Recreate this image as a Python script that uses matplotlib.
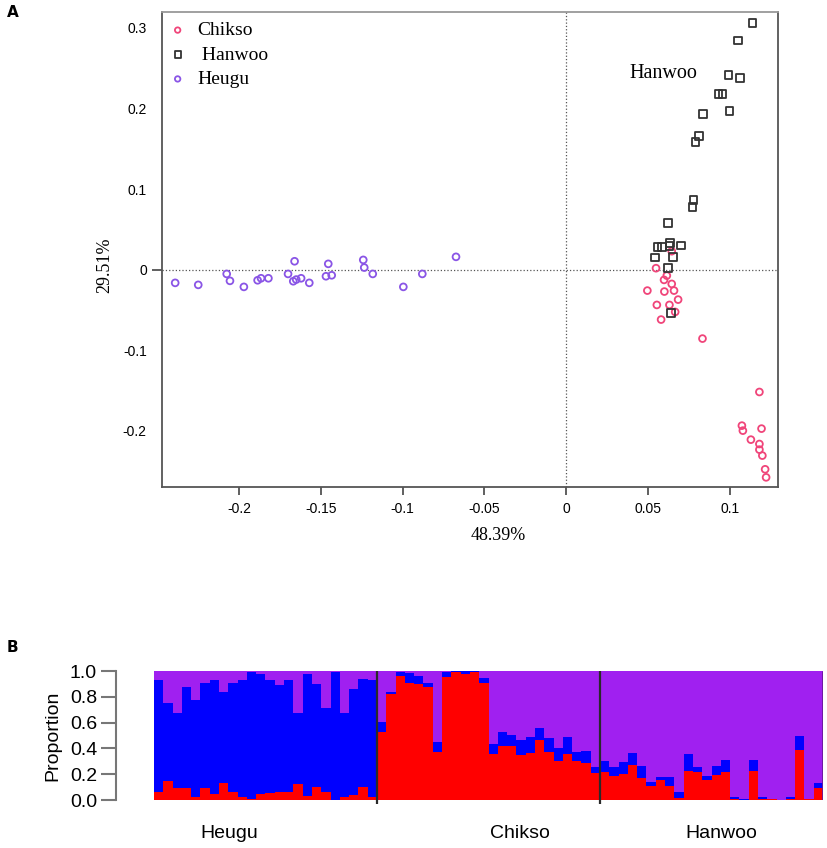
import matplotlib
matplotlib.use("Agg")
import matplotlib.pyplot as plt
import numpy as np

# PCA coordinates (PC1 48.39%, PC2 29.51%)
chikso_x = [0.0646, 0.055, 0.0616, 0.0599, 0.0646, 0.0497, 0.0601, 0.066, 0.0685, 0.0555,
            0.0632, 0.0667, 0.0581, 0.0834, 0.1182, 0.1075, 0.1081, 0.1195, 0.113, 0.1182,
            0.1182, 0.12, 0.1217, 0.1223]
chikso_y = [0.0228, 0.0017, -0.0075, -0.0128, -0.0178, -0.0261, -0.0273, -0.0261, -0.0373, -0.0439,
            -0.0439, -0.0526, -0.0621, -0.0857, -0.152, -0.1938, -0.2, -0.1975, -0.2112, -0.2166,
            -0.2236, -0.231, -0.248, -0.258]
hanwoo_x = [0.114, 0.105, 0.0993, 0.1064, 0.0932, 0.0956, 0.0836, 0.0999, 0.0813, 0.0791,
            0.0779, 0.0773, 0.0622, 0.0559, 0.0585, 0.0636, 0.0632, 0.0701, 0.0544, 0.0653,
            0.0622, 0.0642]
hanwoo_y = [0.3065, 0.2845, 0.2414, 0.2377, 0.2178, 0.2178, 0.1934, 0.1971, 0.1656, 0.1586,
            0.0865, 0.0779, 0.058, 0.0282, 0.0282, 0.0331, 0.029, 0.0298, 0.0149, 0.0158,
            0.0021, -0.0538]
heugu_x = [-0.239, -0.2249, -0.2075, -0.2055, -0.197, -0.1886, -0.1865, -0.182, -0.170, -0.166,
           -0.1668, -0.165, -0.162, -0.157, -0.1468, -0.1454, -0.1433, -0.124, -0.1234, -0.1182,
           -0.0995, -0.0879, -0.0673]
heugu_y = [-0.0165, -0.019, -0.0054, -0.014, -0.0215, -0.0133, -0.0108, -0.0108, -0.0054, 0.0103,
           -0.0145, -0.0124, -0.0108, -0.0165, -0.0083, 0.0071, -0.0071, 0.012, 0.0025, -0.0054,
           -0.0215, -0.0054, 0.0158]

# STRUCTURE proportions per individual (red, blue; purple is the rest)
heugu_red = [0.064, 0.147, 0.09, 0.09, 0.02, 0.095, 0.05, 0.134, 0.064, 0.02, 0.005, 0.046,
             0.057, 0.064, 0.064, 0.124, 0.03, 0.103, 0.064, 0.0, 0.026, 0.039, 0.103, 0.026]
heugu_blue = [0.869, 0.606, 0.585, 0.786, 0.758, 0.812, 0.883, 0.704, 0.843, 0.913, 0.985, 0.934,
              0.876, 0.826, 0.869, 0.551, 0.95, 0.797, 0.646, 0.99, 0.649, 0.824, 0.837, 0.907]
chikso_red = [0.528, 0.825, 0.959, 0.907, 0.902, 0.876, 0.374, 0.954, 0.992, 0.979, 0.99, 0.907,
              0.353, 0.418, 0.418, 0.348, 0.366, 0.464, 0.374, 0.304, 0.356, 0.304, 0.284, 0.206]
chikso_blue = [0.078, 0.013, 0.033, 0.078, 0.057, 0.031, 0.077, 0.038, 0.008, 0.021, 0.01, 0.039,
               0.085, 0.11, 0.085, 0.121, 0.124, 0.098, 0.103, 0.096, 0.134, 0.07, 0.097, 0.052]
hanwoo_red = [0.219, 0.186, 0.201, 0.271, 0.168, 0.108, 0.155, 0.108, 0.013, 0.227, 0.214, 0.155,
              0.193, 0.219, 0.005, 0.0, 0.227, 0.01, 0.005, 0.0, 0.005, 0.387, 0.005, 0.09]
hanwoo_blue = [0.085, 0.072, 0.095, 0.09, 0.095, 0.034, 0.02, 0.067, 0.051, 0.129, 0.039, 0.031,
               0.07, 0.09, 0.021, 0.01, 0.082, 0.01, 0.0, 0.0, 0.015, 0.108, 0.005, 0.039]
groups = ["Heugu", "Chikso", "Hanwoo"]

serif = "Liberation Serif"
sans = "Liberation Sans"

fig = plt.figure(figsize=(8.27, 8.48), dpi=100)

# ---- A: PCA
ax = fig.add_axes([0.196, 0.4257, 0.745, 0.5603])
c_chik, c_han, c_heu = "#f0457a", "#333333", "#8a55e6"
ax.axhline(0, color="#555555", ls=":", lw=0.9, zorder=0)
ax.axvline(0, color="#555555", ls=":", lw=0.9, zorder=0)
ax.scatter(chikso_x, chikso_y, s=24, facecolors="none", edgecolors=c_chik, linewidths=1.3, label="Chikso")
ax.scatter(hanwoo_x, hanwoo_y, s=30, marker="s", facecolors="none", edgecolors=c_han, linewidths=1.3, label=" Hanwoo")
ax.scatter(heugu_x, heugu_y, s=24, facecolors="none", edgecolors=c_heu, linewidths=1.3, label="Heugu")
ax.set_xlim(-0.247, 0.1297)
ax.set_ylim(-0.27, 0.32)
ax.set_xticks([-0.2, -0.15, -0.1, -0.05, 0, 0.05, 0.1])
ax.set_xticklabels(["-0.2", "-0.15", "-0.1", "-0.05", "0", "0.05", "0.1"], family=sans, fontsize=10)
ax.set_yticks([-0.2, -0.1, 0, 0.1, 0.2, 0.3])
ax.set_yticklabels(["-0.2", "-0.1", "0", "0.1", "0.2", "0.3"], family=sans, fontsize=10)
ax.tick_params(axis="x", length=6, width=1.2, color="#444444", pad=5)
ax.tick_params(axis="y", length=7, width=1.2, color="#444444", pad=4)
for t, v in zip(ax.yaxis.get_major_ticks(), [-0.2, -0.1, 0, 0.1, 0.2, 0.3]):
    if v != 0:
        t.tick1line.set_visible(False)
for sp in ax.spines.values():
    sp.set_color("#555555")
    sp.set_linewidth(1.3)
ax.spines["top"].set_color("#999999")
ax.set_xlabel("48.39%", family=serif, fontsize=13)
ax.xaxis.set_label_coords(0.545, -0.085)
ax.set_ylabel("29.51%", family=serif, fontsize=13)
ax.yaxis.set_label_coords(-0.08, 0.467)
ax.text(0.0593, 0.243, "Hanwoo", family=serif, fontsize=14.5, ha="center", va="center")
leg = ax.legend(loc="upper left", frameon=False, prop={"family": serif, "size": 14},
                handlelength=0.6, handletextpad=0.7, labelspacing=0.35,
                borderaxespad=0.2, borderpad=0.3, markerscale=0.8)
fig.text(0.008, 0.985, "A", fontsize=11, fontweight="bold", family="DejaVu Sans", va="center")

# ---- B: STRUCTURE barplot
red = np.array(heugu_red + chikso_red + hanwoo_red)
blue = np.array(heugu_blue + chikso_blue + hanwoo_blue)
purple = 1 - red - blue
idx = np.arange(len(red))

bx = fig.add_axes([0.1862, 0.0566, 0.8090, 0.1521])
bx.bar(idx, red, width=1.0, color="#ff0000", linewidth=0, antialiased=False)
bx.bar(idx, blue, width=1.0, bottom=red, color="#0000ff", linewidth=0, antialiased=False)
bx.bar(idx, purple, width=1.0, bottom=red + blue, color="#a020f0", linewidth=0, antialiased=False)
n = len(heugu_red)
for b in [n - 0.5, 2 * n - 0.5]:
    bx.vlines(b, -0.03, 1.0, color="#2a2a2a", lw=1.6, clip_on=False)
bx.vlines(3 * n - 0.5, 0, 1.0, color="#6a1a9a", lw=2.0)
bx.set_xlim(-0.5, 3 * n - 0.5)
bx.set_ylim(0, 1)
bx.set_xticks([])
for s in ["top", "right", "bottom"]:
    bx.spines[s].set_visible(False)
bx.spines["left"].set_position(("outward", 27))
bx.spines["left"].set_color("#777777")
bx.spines["left"].set_linewidth(1.5)
bx.set_yticks([0, 0.2, 0.4, 0.6, 0.8, 1.0])
bx.set_yticklabels(["0.0", "0.2", "0.4", "0.6", "0.8", "1.0"], family=sans, fontsize=14)
bx.tick_params(axis="y", length=11, width=1.5, color="#777777", pad=3)
bx.set_ylabel("Proportion", family=sans, fontsize=14, labelpad=6)
for name, pos in zip(groups, [7.6, 38.9, 60.5]):
    bx.text(pos, -0.26, name, family=sans, fontsize=14, ha="center", va="center",
            transform=bx.transData)
fig.text(0.008, 0.236, "B", fontsize=11, fontweight="bold", family="DejaVu Sans", va="center")

fig.savefig("out.png", dpi=100)
